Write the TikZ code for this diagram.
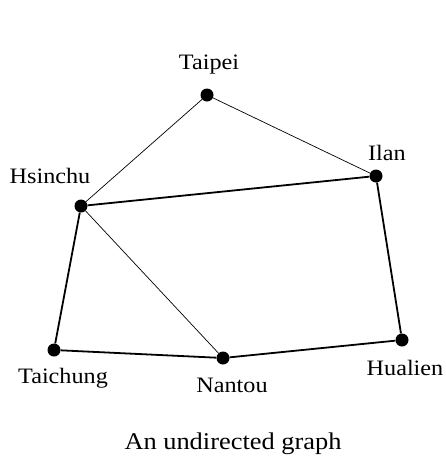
\documentclass[tikz,border=0pt]{standalone}
\usepackage{fontspec}
\setmainfont[FakeStretch=1.1]{Liberation Serif}

\begin{document}
\begin{tikzpicture}[x=1pt, y=-1pt,
    city/.style={circle, fill=black, inner sep=0pt, minimum size=13pt},
    citylabel/.style={inner sep=0pt, font=\fontsize{22}{24}\selectfont},
    road/.style={line width=1.8pt},
    lane/.style={line width=0.7pt}]
    \useasboundingbox (0,0) rectangle (445,461);
    % cities
    \node[city] (taipei)   at (207,95)  {};
    \node[city] (ilan)     at (376,176) {};
    \node[city] (hsinchu)  at (81,206)  {};
    \node[city] (taichung) at (54,350)  {};
    \node[city] (nantou)   at (223,358) {};
    \node[city] (hualien)  at (402,340) {};
    % names
    \node[citylabel] (taipei-l)   at (209,65)  {Taipei};
    \node[citylabel] (ilan-l)     at (387,153) {Ilan};
    \node[citylabel] (hsinchu-l)  at (50,176)  {Hsinchu};
    \node[citylabel] (taichung-l) at (63,378)  {Taichung};
    \node[citylabel] (nantou-l)   at (232,385) {Nantou};
    \node[citylabel] (hualien-l)  at (405,368) {Hualien};
    % edges
    \draw[lane] (taipei) -- (hsinchu);
    \draw[lane] (taipei) -- (ilan);
    \draw[lane] (hsinchu) -- (nantou);
    \draw[road] (hsinchu) -- (ilan);
    \draw[road] (hsinchu) -- (taichung);
    \draw[road] (taichung) -- (nantou);
    \draw[road] (nantou) -- (hualien);
    \draw[road] (ilan) -- (hualien);
    \node[inner sep=0pt, font=\fontsize{24}{26}\selectfont] (caption) at (233,444) {An undirected graph};
\end{tikzpicture}
\end{document}
